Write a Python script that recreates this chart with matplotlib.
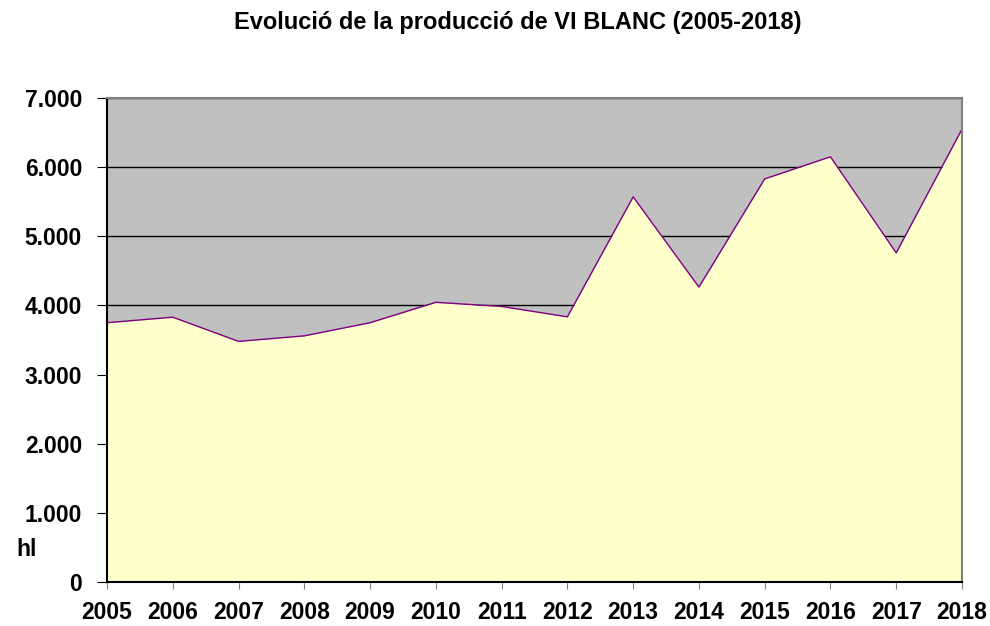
import matplotlib
matplotlib.use("Agg")
import matplotlib.pyplot as plt
from matplotlib.ticker import FuncFormatter

years = [2005, 2006, 2007, 2008, 2009, 2010, 2011, 2012, 2013, 2014, 2015, 2016, 2017, 2018]
production = [3750, 3830, 3480, 3560, 3750, 4045, 3985, 3835, 5570, 4265, 5830, 6150, 4760, 6550]
y_ticks = [0, 1000, 2000, 3000, 4000, 5000, 6000, 7000]
title = "Evolució de la producció de VI BLANC (2005-2018)"
unit_label = "hl"

plt.rcParams['font.family'] = ['Liberation Sans', 'DejaVu Sans']

fig = plt.figure(figsize=(9.9, 6.26), dpi=100)
ax = fig.add_axes([107/990, 44/626, (962-107)/990, (582-98)/626])
ax.set_facecolor('#C0C0C0')

ax.set_xlim(years[0], years[-1])
ax.set_ylim(0, 7000)
ax.fill_between(years, production, 0, color='#FFFFCC', zorder=2, linewidth=0)
ax.plot(years, production, color='#800080', linewidth=1.0, zorder=3)

ax.set_yticks(y_ticks)
ax.yaxis.set_major_formatter(FuncFormatter(lambda v, p: f"{int(v):,}".replace(",", ".")))
ax.set_xticks(years)
ax.set_xticklabels([str(y) for y in years])
ax.grid(axis='y', color='black', linewidth=1.0, zorder=1)
ax.set_axisbelow(True)

for lab in ax.get_xticklabels() + ax.get_yticklabels():
    lab.set_fontweight('bold')
    lab.set_fontsize(16.5)
ax.tick_params(axis='x', direction='out', length=5, pad=9, color='#808080')
ax.tick_params(axis='y', direction='out', length=7, pad=11, color='black')

ax.spines['left'].set_color('black')
ax.spines['bottom'].set_color('black')
ax.spines['top'].set_color('#808080')
ax.spines['right'].set_color('#808080')
for s in ax.spines.values():
    s.set_linewidth(1.5)
    s.set_zorder(4)

fig.text(518/990, 1 - 22/626, title, ha='center', va='center', fontsize=17, fontweight='bold')
fig.text(27/990, 1 - 549/626, unit_label, ha='center', va='center', fontsize=16.5, fontweight='bold')

fig.savefig('out.png', dpi=100)
